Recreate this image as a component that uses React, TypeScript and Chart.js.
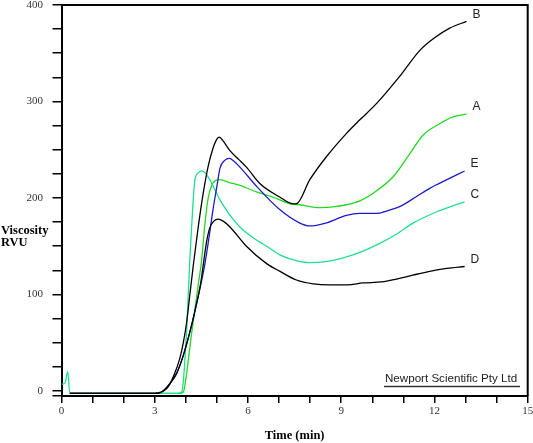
import React, { useEffect, useRef } from 'react';
import { Chart, registerables } from 'chart.js';

Chart.register(...registerables);

// ---- axes ----
const X_MIN = 0;
const X_MAX = 15;
const Y_MIN = -5.2;
const Y_MAX = 400;
const xTicks = [0, 1, 2, 3, 4, 5, 6, 7, 8, 9, 10, 11, 12, 13, 14, 15];
const xLabelTicks = [0, 3, 6, 9, 12, 15];
const yTicks = [0, 25, 50, 75, 100, 125, 150, 175, 200, 225, 250, 275, 300, 325, 350, 375, 400];
const yLabelTicks = [0, 100, 200, 300, 400];

const xTitle = 'Time (min)';
const yTitleLines = ['Viscosity', 'RVU'];
const credit = 'Newport Scientific Pty Ltd';

// ---- series ----
const seriesNames = ['D', 'B', 'E', 'C', 'A'];
const seriesColors = ['#000000', '#000000', '#1c1ccc', '#1fdf8f', '#22d822'];

const bTime = [0.27, 3.0, 3.17, 3.4, 3.6, 3.8, 3.92, 4.03, 4.13, 4.24, 4.4, 4.56, 4.72, 4.88, 4.98, 5.07, 5.18, 5.42, 5.7, 5.95, 6.38, 7.02, 7.45, 7.55, 7.99, 8.53, 9.17, 9.6, 10.14, 10.88, 11.53, 11.96, 12.49, 13.03];
const bVisc = [-2.4, -2.4, -1.5, 3, 15, 33, 50, 72, 100, 130, 170, 205, 233, 252, 260, 263, 260, 249, 240, 232, 215, 201, 194, 194, 219, 243, 267, 281, 298, 326, 353, 365, 376, 383];

const aTime = [0.27, 3.8, 3.92, 4.0, 4.08, 4.18, 4.29, 4.4, 4.51, 4.61, 4.72, 4.83, 4.95, 5.1, 5.4, 5.74, 6.3, 6.8, 7.35, 7.67, 8.31, 8.8, 9.17, 9.6, 10.03, 10.67, 11.21, 11.63, 12.17, 12.6, 13.03];
const aVisc = [-2.4, -2.4, -1, 12, 32, 58, 84, 110, 136, 172, 200, 213, 218, 219, 216, 213, 206, 201, 194, 193, 190, 191, 193, 197, 205, 222, 246, 265, 277, 284, 287];

const eTime = [0.27, 3.1, 3.27, 3.5, 3.7, 3.87, 4.03, 4.2, 4.35, 4.48, 4.61, 4.75, 4.88, 5.0, 5.1, 5.25, 5.4, 5.55, 5.74, 6.28, 7.02, 7.67, 7.99, 8.5, 9.17, 9.6, 10.13, 10.5, 10.88, 11.4, 11.85, 12.4, 12.97];
const eVisc = [-2.4, -2.4, 0, 8, 18, 32, 49, 70, 91, 110, 131, 160, 189, 212, 231, 239, 241, 238, 232, 212, 188, 174, 171, 174, 182, 184, 184, 187, 191, 201, 210, 219, 228];

const cTime = [0, 0.11, 0.2, 0.27, 3.75, 3.87, 3.92, 3.97, 4.03, 4.08, 4.13, 4.19, 4.29, 4.4, 4.51, 4.65, 4.77, 5.1, 5.4, 5.74, 6.2, 6.6, 7.03, 7.35, 7.99, 8.5, 9.17, 9.7, 10.24, 10.8, 11.31, 12.1, 12.97];
const cVisc = [7, 8, 20, -2.4, -2.4, -1, 10, 32, 65, 101, 136, 172, 218, 226, 228, 225, 219, 198, 183, 170, 158, 150, 141, 137, 133, 134, 139, 145, 153, 163, 174, 186, 196];

const dTime = [0.27, 3.1, 3.27, 3.5, 3.7, 3.87, 4.03, 4.2, 4.35, 4.48, 4.58, 4.67, 4.77, 4.9, 5.04, 5.2, 5.42, 5.95, 6.6, 7.03, 7.56, 8.1, 8.63, 9.2, 9.7, 10.3, 10.78, 11.3, 11.85, 12.4, 12.97];
const dVisc = [-2.4, -2.4, 0, 8, 18, 32, 49, 70, 91, 112, 135, 155, 169, 176, 178, 176, 170, 150, 132, 124, 115, 111, 110, 110, 112, 113, 116, 120, 124, 127, 129];

const seriesTimes = [dTime, bTime, eTime, cTime, aTime];
const seriesVisc = [dVisc, bVisc, eVisc, cVisc, aVisc];

const toPoints = (t: number[], v: number[]) => t.map((x, i) => ({ x, y: v[i] }));

const decorPlugin = {
  id: 'decor',
  afterDraw(chart: any) {
    const { ctx, chartArea } = chart;
    const xs = chart.scales.x;
    const ys = chart.scales.y;
    ctx.save();
    // top / right frame
    ctx.strokeStyle = '#000';
    ctx.lineWidth = 2;
    ctx.beginPath();
    ctx.moveTo(chartArea.left, chartArea.top);
    ctx.lineTo(chartArea.right, chartArea.top);
    ctx.lineTo(chartArea.right, chartArea.bottom);
    ctx.stroke();

    // curve end labels
    ctx.fillStyle = '#222';
    ctx.font = '12px "Liberation Sans", Arial, sans-serif';
    ctx.textAlign = 'left';
    ctx.textBaseline = 'middle';
    seriesNames.forEach((name, i) => {
      const t = seriesTimes[i];
      const v = seriesVisc[i];
      const px = xs.getPixelForValue(t[t.length - 1]);
      const py = ys.getPixelForValue(v[v.length - 1]);
      ctx.fillText(name, px + 6, py - 7);
    });

    // axis titles
    ctx.fillStyle = '#000';
    ctx.font = 'bold 12.5px "Liberation Serif", "Times New Roman", serif';
    ctx.textBaseline = 'alphabetic';
    ctx.textAlign = 'left';
    ctx.fillText(yTitleLines[0], 1, 234);
    ctx.fillText(yTitleLines[1], 1, 246);
    ctx.textAlign = 'center';
    ctx.fillText(xTitle, (chartArea.left + chartArea.right) / 2, 439);

    // credit
    ctx.fillStyle = '#222';
    ctx.font = '11.6px "Liberation Sans", Arial, sans-serif';
    ctx.textAlign = 'left';
    ctx.fillText(credit, 385, 382);
    ctx.strokeStyle = '#333';
    ctx.lineWidth = 1.5;
    ctx.beginPath();
    ctx.moveTo(384, 386.5);
    ctx.lineTo(520, 386.5);
    ctx.stroke();
    ctx.restore();
  },
};

export default function App() {
  const ref = useRef<HTMLCanvasElement | null>(null);
  useEffect(() => {
    document.body.style.margin = '0';
    if (!ref.current) return;
    const chart = new Chart(ref.current, {
      type: 'line',
      data: {
        datasets: seriesNames.map((name, i) => ({
          label: name,
          data: toPoints(seriesTimes[i], seriesVisc[i]),
          borderColor: seriesColors[i],
          borderWidth: 1.3,
          pointRadius: 0,
          fill: false,
          cubicInterpolationMode: 'monotone' as const,
        })),
      },
      options: {
        responsive: false,
        animation: false,
        devicePixelRatio: 1,
        layout: { padding: { top: 5, right: 5.3, left: 0, bottom: 0 } },
        plugins: { legend: { display: false }, tooltip: { enabled: false } },
        scales: {
          x: {
            type: 'linear',
            min: X_MIN,
            max: X_MAX,
            afterFit: (s: any) => {
              s.height = 47;
              s.paddingLeft = 0;
              s.paddingRight = 0;
              s.paddingTop = 0;
              s.paddingBottom = 0;
            },
            afterBuildTicks: (s: any) => { s.ticks = xTicks.map((v) => ({ value: v })); },
            ticks: {
              autoSkip: false,
              maxRotation: 0,
              padding: 2,
              color: '#333',
              font: { family: '"Liberation Serif", "Times New Roman", serif', size: 11 },
              callback: (v: any) => (xLabelTicks.includes(Number(v)) ? String(v) : ''),
            },
            grid: { drawOnChartArea: false, drawTicks: true, tickLength: 7, tickColor: '#000', lineWidth: 1.5 },
            border: { color: '#000', width: 2 },
          },
          y: {
            type: 'linear',
            min: Y_MIN,
            max: Y_MAX,
            afterFit: (s: any) => {
              s.width = 61.5;
              s.paddingTop = 0;
              s.paddingBottom = 0;
              s.paddingLeft = 0;
              s.paddingRight = 0;
            },
            afterBuildTicks: (s: any) => { s.ticks = [Y_MIN, ...yTicks].map((v) => ({ value: v })); },
            ticks: {
              autoSkip: false,
              padding: 9.5,
              color: '#333',
              font: { family: '"Liberation Serif", "Times New Roman", serif', size: 11 },
              callback: (v: any) => (yLabelTicks.includes(Number(v)) ? String(v) : ''),
            },
            grid: { drawOnChartArea: false, drawTicks: true, tickLength: 9, tickColor: '#000', lineWidth: 1.5 },
            border: { color: '#000', width: 2 },
          },
        },
      },
      plugins: [decorPlugin],
    });
    return () => chart.destroy();
  }, []);
  return (
    <div style={{ position: 'absolute', left: 0, top: 0, width: 533, height: 443 }}>
      <canvas ref={ref} width={533} height={443} />
    </div>
  );
}
